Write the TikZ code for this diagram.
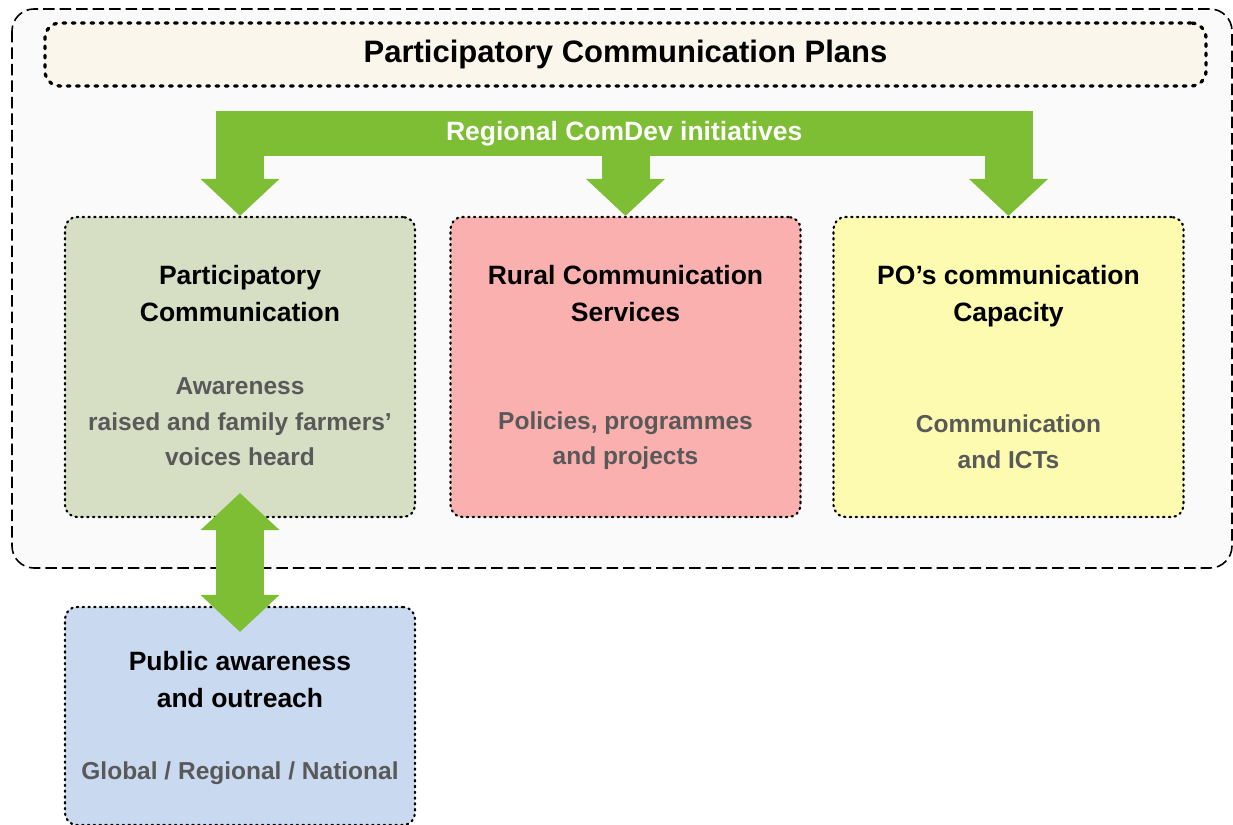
\documentclass[tikz,border=0pt]{standalone}
\usepackage{fontspec}
\setmainfont{Liberation Sans}
\usetikzlibrary{arrows.meta,calc}
\definecolor{comgreen}{RGB}{125,190,52}
\definecolor{framegray}{RGB}{250,250,250}
\definecolor{plancream}{RGB}{250,246,236}
\definecolor{pcolive}{RGB}{214,222,196}
\definecolor{rcspink}{RGB}{250,176,175}
\definecolor{poyellow}{RGB}{252,251,176}
\definecolor{pablue}{RGB}{201,218,240}
\definecolor{subgray}{RGB}{89,89,89}
\begin{document}
\begin{tikzpicture}[x=1pt, y=-1pt,
    boxstyle/.style={draw, line width=2.2pt, dash pattern=on 1.4pt off 4.4pt, line cap=round,
        rounded corners=12pt, minimum width=350pt, minimum height=300pt},
    head/.style={align=center, font=\fontsize{26.5}{37}\selectfont\bfseries},
    sub/.style={align=center, text=subgray, font=\fontsize{24.5}{35.5}\selectfont\bfseries},
    fat/.style={comgreen, line width=48pt, -{Triangle[length=37pt, width=79pt, line width=0pt]}},
    fatboth/.style={comgreen, line width=48pt,
        {Triangle[length=37pt, width=79pt, line width=0pt]}-{Triangle[length=37pt, width=79pt, line width=0pt]}}]
\useasboundingbox (0,0) rectangle (1233,824);
\draw[fill=framegray, line width=1.6pt, dash pattern=on 11.5pt off 5pt, rounded corners=22pt]
    (12,9) rectangle (1232,568);
\node[draw, fill=plancream, line width=3.3pt, dash pattern=on 2.7pt off 6.6pt, line cap=round,
    rounded corners=15pt, minimum width=1161pt, minimum height=63pt,
    font=\fontsize{31}{36}\selectfont\bfseries] (plan) at (625.5,54.5) {Participatory Communication Plans};

\node[boxstyle, fill=pcolive] (pc) at (240,367) {};
\node[boxstyle, fill=rcspink] (rcs) at (625.5,367) {};
\node[boxstyle, fill=poyellow] (poc) at (1008.5,367) {};
\node[boxstyle, fill=pablue, minimum height=218pt] (pa) at (240,716) {};

\node[fill=comgreen, text=white, minimum width=816.5pt, minimum height=45pt, inner sep=0pt,
    font=\fontsize{26.5}{30}\selectfont\bfseries] (bar) at (624.25,133.5) {Regional ComDev initiatives};
\foreach \b in {pc,rcs,poc}
{
    \draw[fat] (bar.south -| \b.north) -- (\b.north);
}
\draw[fatboth] ($(pc.south)+(0,-25)$) -- ($(pa.north)+(0,26)$);

\node[head] at (240,294) {Participatory\\Communication};
\node[sub] at (240,422) {Awareness\\raised and family farmers’\\voices heard};
\node[head] at (625.5,293.5) {Rural Communication\\Services};
\node[sub] at (625.5,440.5) {Policies, programmes\\and projects};
\node[head] at (1008.5,296) {PO’s communication\\Capacity};
\node[sub] at (1008.5,441.5) {Communication\\and ICTs};
\node[head] at (240,680) {Public awareness\\and outreach};
\node[sub] at (240,773) {Global / Regional / National};
\end{tikzpicture}
\end{document}
